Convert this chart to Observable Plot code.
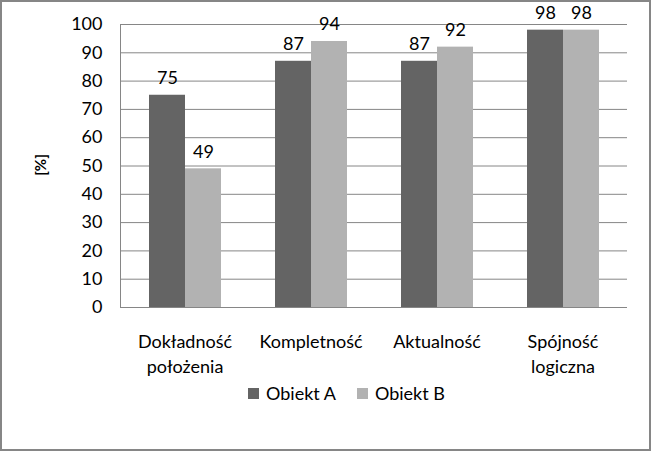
<!DOCTYPE html>
<html>
<head>
<meta charset="utf-8">
<script src="https://cdn.jsdelivr.net/npm/d3@7"></script>
<script src="https://cdn.jsdelivr.net/npm/@observablehq/plot@0.6"></script>
<style>
  body { margin: 0; background: #fff; }
  #wrap { position: relative; width: 651px; height: 451px; box-sizing: border-box; border: 2px solid #868686; background: #fff; font-family: Lato, "Open Sans", sans-serif; overflow: hidden; }
  #bg, #fg { position: absolute; left: 0; top: 0; }
  #legend { position: absolute; top: 380px; left: 246px; display: flex; gap: 21px; font-size: 18px; color: #000; }
  #legend .item { display: flex; align-items: center; gap: 7px; }
  #legend .sw { width: 11px; height: 11px; display: inline-block; }
  .ylab { font-weight: 700; font-family: Lato, "DejaVu Sans", sans-serif; font-size: 15px; }
</style>
</head>
<body>
<div id="wrap">
  <div id="bg"></div>
  <div id="fg"></div>
  <div id="legend"></div>
</div>
<script>
const categories = ["Dokładność\npołożenia", "Kompletność", "Aktualność", "Spójność\nlogiczna"];
const series = ["Obiekt A", "Obiekt B"];
const valuesA = [75, 87, 87, 98];
const valuesB = [49, 94, 92, 98];
const colors = ["#646464", "#b2b2b2"];
const yTicks = [0, 10, 20, 30, 40, 50, 60, 70, 80, 90, 100];

const data = [];
categories.forEach((c, i) => {
  data.push({category: c, series: series[0], value: valuesA[i]});
  data.push({category: c, series: series[1], value: valuesB[i]});
});

const common = {
  width: 647,
  height: 378,
  marginLeft: 118,
  marginRight: 22,
  marginTop: 22,
  marginBottom: 73,
  style: {fontFamily: "Lato, 'Open Sans', sans-serif", fontSize: "18px", color: "#000", background: "transparent", overflow: "visible"},
  y: {domain: [0, 100], ticks: yTicks, label: null}
};

// Background: grid, y axis, frame lines
const bg = Plot.plot({
  ...common,
  x: {domain: [0, 1], axis: null},
  marks: [
    Plot.gridY(yTicks, {stroke: "#868686", strokeOpacity: 1}),
    Plot.axisY(yTicks, {tickSize: 0, tickPadding: 18, label: null, fontSize: 18}),
    Plot.ruleX([0], {stroke: "#868686"}),
    Plot.ruleY([0], {stroke: "#868686"})
  ]
});
d3.select(bg).append("text")
  .attr("class", "ylab")
  .attr("transform", "translate(40,163) rotate(-90)")
  .attr("text-anchor", "middle")
  .attr("dominant-baseline", "middle")
  .attr("font-weight", "700")
  .text("[%]");

// Foreground: grouped bars
const fg = Plot.plot({
  ...common,
  fx: {domain: categories, paddingInner: 0.424, paddingOuter: 0.212, label: null},
  x: {domain: series, padding: 0, axis: null},
  color: {domain: series, range: colors},
  marks: [
    Plot.axisY({ticks: [], label: null}),
    Plot.axisFx({tickSize: 0, tickPadding: 23, label: null, fontSize: 18, lineHeight: 1.39, anchor: "bottom"}),
    Plot.barY(data, {fx: "category", x: "series", y: "value", fill: "series"}),
    Plot.text(data, {fx: "category", x: "series", y: "value", text: d => String(d.value), dy: -17, fontSize: 18, fill: "#000"})
  ]
});

document.getElementById("bg").appendChild(bg);
document.getElementById("fg").appendChild(fg);

const legend = document.getElementById("legend");
series.forEach((s, i) => {
  const item = document.createElement("span");
  item.className = "item";
  const sw = document.createElement("span");
  sw.className = "sw";
  sw.style.background = colors[i];
  const t = document.createElement("span");
  t.textContent = s;
  item.appendChild(sw);
  item.appendChild(t);
  legend.appendChild(item);
});
</script>
</body>
</html>
